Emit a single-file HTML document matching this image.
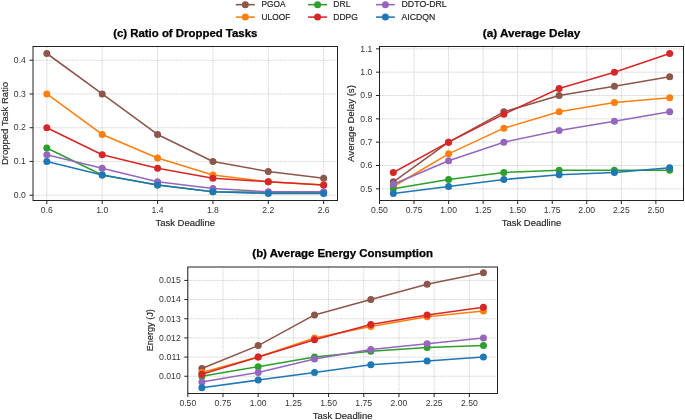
<!DOCTYPE html>
<html><head><meta charset="utf-8"><style>
html,body{margin:0;padding:0;background:#fff;}
body{width:685px;height:420px;overflow:hidden;}
svg{display:block;will-change:transform;font-family:"Liberation Sans",sans-serif;}
</style></head><body>
<svg width="685" height="420" viewBox="0 0 685 420">
<rect width="685" height="420" fill="#fff"/>
<path d="M46.84 46.50V200.50M102.20 46.50V200.50M157.57 46.50V200.50M212.93 46.50V200.50M268.30 46.50V200.50M323.66 46.50V200.50M33.00 195.19H337.50M33.00 161.45H337.50M33.00 127.72H337.50M33.00 93.98H337.50M33.00 60.25H337.50" stroke="#b0b0b0" stroke-opacity="0.8" stroke-width="0.6" stroke-dasharray="1.9 0.7" fill="none"/>
<polyline points="46.84,53.50 102.20,93.98 157.57,134.46 212.93,161.45 268.30,171.57 323.66,178.32" stroke="#8c564b" stroke-width="1.55" fill="none" stroke-linejoin="round" stroke-linecap="butt"/>
<circle cx="46.84" cy="53.50" r="3.5" fill="#8c564b"/><circle cx="102.20" cy="93.98" r="3.5" fill="#8c564b"/><circle cx="157.57" cy="134.46" r="3.5" fill="#8c564b"/><circle cx="212.93" cy="161.45" r="3.5" fill="#8c564b"/><circle cx="268.30" cy="171.57" r="3.5" fill="#8c564b"/><circle cx="323.66" cy="178.32" r="3.5" fill="#8c564b"/>
<polyline points="46.84,93.98 102.20,134.46 157.57,158.08 212.93,174.95 268.30,181.69 323.66,185.07" stroke="#ff7f0e" stroke-width="1.55" fill="none" stroke-linejoin="round" stroke-linecap="butt"/>
<circle cx="46.84" cy="93.98" r="3.5" fill="#ff7f0e"/><circle cx="102.20" cy="134.46" r="3.5" fill="#ff7f0e"/><circle cx="157.57" cy="158.08" r="3.5" fill="#ff7f0e"/><circle cx="212.93" cy="174.95" r="3.5" fill="#ff7f0e"/><circle cx="268.30" cy="181.69" r="3.5" fill="#ff7f0e"/><circle cx="323.66" cy="185.07" r="3.5" fill="#ff7f0e"/>
<polyline points="46.84,147.96 102.20,174.95 157.57,185.07 212.93,191.81 268.30,192.15 323.66,192.49" stroke="#2ca02c" stroke-width="1.55" fill="none" stroke-linejoin="round" stroke-linecap="butt"/>
<circle cx="46.84" cy="147.96" r="3.5" fill="#2ca02c"/><circle cx="102.20" cy="174.95" r="3.5" fill="#2ca02c"/><circle cx="157.57" cy="185.07" r="3.5" fill="#2ca02c"/><circle cx="212.93" cy="191.81" r="3.5" fill="#2ca02c"/><circle cx="268.30" cy="192.15" r="3.5" fill="#2ca02c"/><circle cx="323.66" cy="192.49" r="3.5" fill="#2ca02c"/>
<polyline points="46.84,127.72 102.20,154.70 157.57,168.20 212.93,178.32 268.30,181.69 323.66,185.07" stroke="#d62728" stroke-width="1.55" fill="none" stroke-linejoin="round" stroke-linecap="butt"/>
<circle cx="46.84" cy="127.72" r="3.5" fill="#d62728"/><circle cx="102.20" cy="154.70" r="3.5" fill="#d62728"/><circle cx="157.57" cy="168.20" r="3.5" fill="#d62728"/><circle cx="212.93" cy="178.32" r="3.5" fill="#d62728"/><circle cx="268.30" cy="181.69" r="3.5" fill="#d62728"/><circle cx="323.66" cy="185.07" r="3.5" fill="#d62728"/>
<polyline points="46.84,154.70 102.20,168.20 157.57,181.69 212.93,188.44 268.30,191.81 323.66,191.81" stroke="#9467bd" stroke-width="1.55" fill="none" stroke-linejoin="round" stroke-linecap="butt"/>
<circle cx="46.84" cy="154.70" r="3.5" fill="#9467bd"/><circle cx="102.20" cy="168.20" r="3.5" fill="#9467bd"/><circle cx="157.57" cy="181.69" r="3.5" fill="#9467bd"/><circle cx="212.93" cy="188.44" r="3.5" fill="#9467bd"/><circle cx="268.30" cy="191.81" r="3.5" fill="#9467bd"/><circle cx="323.66" cy="191.81" r="3.5" fill="#9467bd"/>
<polyline points="46.84,161.45 102.20,174.95 157.57,185.07 212.93,191.81 268.30,193.50 323.66,193.50" stroke="#1f77b4" stroke-width="1.55" fill="none" stroke-linejoin="round" stroke-linecap="butt"/>
<circle cx="46.84" cy="161.45" r="3.5" fill="#1f77b4"/><circle cx="102.20" cy="174.95" r="3.5" fill="#1f77b4"/><circle cx="157.57" cy="185.07" r="3.5" fill="#1f77b4"/><circle cx="212.93" cy="191.81" r="3.5" fill="#1f77b4"/><circle cx="268.30" cy="193.50" r="3.5" fill="#1f77b4"/><circle cx="323.66" cy="193.50" r="3.5" fill="#1f77b4"/>
<rect x="33.00" y="46.50" width="304.50" height="154.00" fill="none" stroke="#222" stroke-width="1.0"/>
<path d="M46.84 200.50v3.5M102.20 200.50v3.5M157.57 200.50v3.5M212.93 200.50v3.5M268.30 200.50v3.5M323.66 200.50v3.5M33.00 195.19h-3.5M33.00 161.45h-3.5M33.00 127.72h-3.5M33.00 93.98h-3.5M33.00 60.25h-3.5" stroke="#222" stroke-width="1.0" fill="none"/>
<text x="46.84" y="212.60" font-size="8.50" text-anchor="middle" textLength="12.01" lengthAdjust="spacingAndGlyphs" fill="#363636" stroke="#363636" stroke-width="0.0">0.6</text>
<text x="102.20" y="212.60" font-size="8.50" text-anchor="middle" textLength="12.01" lengthAdjust="spacingAndGlyphs" fill="#363636" stroke="#363636" stroke-width="0.0">1.0</text>
<text x="157.57" y="212.60" font-size="8.50" text-anchor="middle" textLength="12.01" lengthAdjust="spacingAndGlyphs" fill="#363636" stroke="#363636" stroke-width="0.0">1.4</text>
<text x="212.93" y="212.60" font-size="8.50" text-anchor="middle" textLength="12.01" lengthAdjust="spacingAndGlyphs" fill="#363636" stroke="#363636" stroke-width="0.0">1.8</text>
<text x="268.30" y="212.60" font-size="8.50" text-anchor="middle" textLength="12.01" lengthAdjust="spacingAndGlyphs" fill="#363636" stroke="#363636" stroke-width="0.0">2.2</text>
<text x="323.66" y="212.60" font-size="8.50" text-anchor="middle" textLength="12.01" lengthAdjust="spacingAndGlyphs" fill="#363636" stroke="#363636" stroke-width="0.0">2.6</text>
<text x="25.90" y="197.94" font-size="8.50" text-anchor="end" textLength="12.01" lengthAdjust="spacingAndGlyphs" fill="#363636" stroke="#363636" stroke-width="0.0">0.0</text>
<text x="25.90" y="164.20" font-size="8.50" text-anchor="end" textLength="12.01" lengthAdjust="spacingAndGlyphs" fill="#363636" stroke="#363636" stroke-width="0.0">0.1</text>
<text x="25.90" y="130.47" font-size="8.50" text-anchor="end" textLength="12.01" lengthAdjust="spacingAndGlyphs" fill="#363636" stroke="#363636" stroke-width="0.0">0.2</text>
<text x="25.90" y="96.73" font-size="8.50" text-anchor="end" textLength="12.01" lengthAdjust="spacingAndGlyphs" fill="#363636" stroke="#363636" stroke-width="0.0">0.3</text>
<text x="25.90" y="63.00" font-size="8.50" text-anchor="end" textLength="12.01" lengthAdjust="spacingAndGlyphs" fill="#363636" stroke="#363636" stroke-width="0.0">0.4</text>
<text x="185.25" y="36.50" font-size="10.26" font-weight="bold" text-anchor="middle" textLength="144.17" lengthAdjust="spacingAndGlyphs" fill="#000" stroke="#000" stroke-width="0.25">(c) Ratio of Dropped Tasks</text>
<text x="185.25" y="226.00" font-size="9.14" text-anchor="middle" textLength="59.60" lengthAdjust="spacingAndGlyphs" fill="#262626" stroke="#262626" stroke-width="0.15">Task Deadline</text>
<text x="7.80" y="123.50" font-size="9.14" text-anchor="middle" textLength="83.20" lengthAdjust="spacingAndGlyphs" fill="#262626" stroke="#262626" stroke-width="0.15" transform="rotate(-90 7.80 123.50)">Dropped Task Ratio</text>
<path d="M379.50 46.50V200.50M414.05 46.50V200.50M448.59 46.50V200.50M483.14 46.50V200.50M517.68 46.50V200.50M552.23 46.50V200.50M586.77 46.50V200.50M621.32 46.50V200.50M655.86 46.50V200.50M379.50 188.83H683.50M379.50 165.50H683.50M379.50 142.17H683.50M379.50 118.83H683.50M379.50 95.50H683.50M379.50 72.17H683.50M379.50 48.83H683.50" stroke="#b0b0b0" stroke-opacity="0.8" stroke-width="0.6" stroke-dasharray="1.9 0.7" fill="none"/>
<polyline points="393.32,181.83 448.59,142.17 503.86,111.83 559.14,95.50 614.41,86.17 669.68,76.83" stroke="#8c564b" stroke-width="1.55" fill="none" stroke-linejoin="round" stroke-linecap="butt"/>
<circle cx="393.32" cy="181.83" r="3.5" fill="#8c564b"/><circle cx="448.59" cy="142.17" r="3.5" fill="#8c564b"/><circle cx="503.86" cy="111.83" r="3.5" fill="#8c564b"/><circle cx="559.14" cy="95.50" r="3.5" fill="#8c564b"/><circle cx="614.41" cy="86.17" r="3.5" fill="#8c564b"/><circle cx="669.68" cy="76.83" r="3.5" fill="#8c564b"/>
<polyline points="393.32,186.50 448.59,153.83 503.86,128.17 559.14,111.83 614.41,102.50 669.68,97.83" stroke="#ff7f0e" stroke-width="1.55" fill="none" stroke-linejoin="round" stroke-linecap="butt"/>
<circle cx="393.32" cy="186.50" r="3.5" fill="#ff7f0e"/><circle cx="448.59" cy="153.83" r="3.5" fill="#ff7f0e"/><circle cx="503.86" cy="128.17" r="3.5" fill="#ff7f0e"/><circle cx="559.14" cy="111.83" r="3.5" fill="#ff7f0e"/><circle cx="614.41" cy="102.50" r="3.5" fill="#ff7f0e"/><circle cx="669.68" cy="97.83" r="3.5" fill="#ff7f0e"/>
<polyline points="393.32,188.83 448.59,179.50 503.86,172.50 559.14,170.17 614.41,170.17 669.68,170.17" stroke="#2ca02c" stroke-width="1.55" fill="none" stroke-linejoin="round" stroke-linecap="butt"/>
<circle cx="393.32" cy="188.83" r="3.5" fill="#2ca02c"/><circle cx="448.59" cy="179.50" r="3.5" fill="#2ca02c"/><circle cx="503.86" cy="172.50" r="3.5" fill="#2ca02c"/><circle cx="559.14" cy="170.17" r="3.5" fill="#2ca02c"/><circle cx="614.41" cy="170.17" r="3.5" fill="#2ca02c"/><circle cx="669.68" cy="170.17" r="3.5" fill="#2ca02c"/>
<polyline points="393.32,172.50 448.59,142.17 503.86,114.17 559.14,88.50 614.41,72.17 669.68,53.50" stroke="#d62728" stroke-width="1.55" fill="none" stroke-linejoin="round" stroke-linecap="butt"/>
<circle cx="393.32" cy="172.50" r="3.5" fill="#d62728"/><circle cx="448.59" cy="142.17" r="3.5" fill="#d62728"/><circle cx="503.86" cy="114.17" r="3.5" fill="#d62728"/><circle cx="559.14" cy="88.50" r="3.5" fill="#d62728"/><circle cx="614.41" cy="72.17" r="3.5" fill="#d62728"/><circle cx="669.68" cy="53.50" r="3.5" fill="#d62728"/>
<polyline points="393.32,184.17 448.59,160.83 503.86,142.17 559.14,130.50 614.41,121.17 669.68,111.83" stroke="#9467bd" stroke-width="1.55" fill="none" stroke-linejoin="round" stroke-linecap="butt"/>
<circle cx="393.32" cy="184.17" r="3.5" fill="#9467bd"/><circle cx="448.59" cy="160.83" r="3.5" fill="#9467bd"/><circle cx="503.86" cy="142.17" r="3.5" fill="#9467bd"/><circle cx="559.14" cy="130.50" r="3.5" fill="#9467bd"/><circle cx="614.41" cy="121.17" r="3.5" fill="#9467bd"/><circle cx="669.68" cy="111.83" r="3.5" fill="#9467bd"/>
<polyline points="393.32,193.50 448.59,186.50 503.86,179.50 559.14,174.83 614.41,172.50 669.68,167.83" stroke="#1f77b4" stroke-width="1.55" fill="none" stroke-linejoin="round" stroke-linecap="butt"/>
<circle cx="393.32" cy="193.50" r="3.5" fill="#1f77b4"/><circle cx="448.59" cy="186.50" r="3.5" fill="#1f77b4"/><circle cx="503.86" cy="179.50" r="3.5" fill="#1f77b4"/><circle cx="559.14" cy="174.83" r="3.5" fill="#1f77b4"/><circle cx="614.41" cy="172.50" r="3.5" fill="#1f77b4"/><circle cx="669.68" cy="167.83" r="3.5" fill="#1f77b4"/>
<rect x="379.50" y="46.50" width="304.00" height="154.00" fill="none" stroke="#222" stroke-width="1.0"/>
<path d="M379.50 200.50v3.5M414.05 200.50v3.5M448.59 200.50v3.5M483.14 200.50v3.5M517.68 200.50v3.5M552.23 200.50v3.5M586.77 200.50v3.5M621.32 200.50v3.5M655.86 200.50v3.5M379.50 188.83h-3.5M379.50 165.50h-3.5M379.50 142.17h-3.5M379.50 118.83h-3.5M379.50 95.50h-3.5M379.50 72.17h-3.5M379.50 48.83h-3.5" stroke="#222" stroke-width="1.0" fill="none"/>
<text x="379.50" y="212.60" font-size="8.50" text-anchor="middle" textLength="16.81" lengthAdjust="spacingAndGlyphs" fill="#363636" stroke="#363636" stroke-width="0.0">0.50</text>
<text x="414.05" y="212.60" font-size="8.50" text-anchor="middle" textLength="16.81" lengthAdjust="spacingAndGlyphs" fill="#363636" stroke="#363636" stroke-width="0.0">0.75</text>
<text x="448.59" y="212.60" font-size="8.50" text-anchor="middle" textLength="16.81" lengthAdjust="spacingAndGlyphs" fill="#363636" stroke="#363636" stroke-width="0.0">1.00</text>
<text x="483.14" y="212.60" font-size="8.50" text-anchor="middle" textLength="16.81" lengthAdjust="spacingAndGlyphs" fill="#363636" stroke="#363636" stroke-width="0.0">1.25</text>
<text x="517.68" y="212.60" font-size="8.50" text-anchor="middle" textLength="16.81" lengthAdjust="spacingAndGlyphs" fill="#363636" stroke="#363636" stroke-width="0.0">1.50</text>
<text x="552.23" y="212.60" font-size="8.50" text-anchor="middle" textLength="16.81" lengthAdjust="spacingAndGlyphs" fill="#363636" stroke="#363636" stroke-width="0.0">1.75</text>
<text x="586.77" y="212.60" font-size="8.50" text-anchor="middle" textLength="16.81" lengthAdjust="spacingAndGlyphs" fill="#363636" stroke="#363636" stroke-width="0.0">2.00</text>
<text x="621.32" y="212.60" font-size="8.50" text-anchor="middle" textLength="16.81" lengthAdjust="spacingAndGlyphs" fill="#363636" stroke="#363636" stroke-width="0.0">2.25</text>
<text x="655.86" y="212.60" font-size="8.50" text-anchor="middle" textLength="16.81" lengthAdjust="spacingAndGlyphs" fill="#363636" stroke="#363636" stroke-width="0.0">2.50</text>
<text x="372.40" y="191.59" font-size="8.50" text-anchor="end" textLength="12.01" lengthAdjust="spacingAndGlyphs" fill="#363636" stroke="#363636" stroke-width="0.0">0.5</text>
<text x="372.40" y="168.25" font-size="8.50" text-anchor="end" textLength="12.01" lengthAdjust="spacingAndGlyphs" fill="#363636" stroke="#363636" stroke-width="0.0">0.6</text>
<text x="372.40" y="144.92" font-size="8.50" text-anchor="end" textLength="12.01" lengthAdjust="spacingAndGlyphs" fill="#363636" stroke="#363636" stroke-width="0.0">0.7</text>
<text x="372.40" y="121.59" font-size="8.50" text-anchor="end" textLength="12.01" lengthAdjust="spacingAndGlyphs" fill="#363636" stroke="#363636" stroke-width="0.0">0.8</text>
<text x="372.40" y="98.25" font-size="8.50" text-anchor="end" textLength="12.01" lengthAdjust="spacingAndGlyphs" fill="#363636" stroke="#363636" stroke-width="0.0">0.9</text>
<text x="372.40" y="74.92" font-size="8.50" text-anchor="end" textLength="12.01" lengthAdjust="spacingAndGlyphs" fill="#363636" stroke="#363636" stroke-width="0.0">1.0</text>
<text x="372.40" y="51.59" font-size="8.50" text-anchor="end" textLength="12.01" lengthAdjust="spacingAndGlyphs" fill="#363636" stroke="#363636" stroke-width="0.0">1.1</text>
<text x="531.50" y="36.50" font-size="10.26" font-weight="bold" text-anchor="middle" textLength="97.41" lengthAdjust="spacingAndGlyphs" fill="#000" stroke="#000" stroke-width="0.25">(a) Average Delay</text>
<text x="531.50" y="225.60" font-size="9.14" text-anchor="middle" textLength="59.60" lengthAdjust="spacingAndGlyphs" fill="#262626" stroke="#262626" stroke-width="0.15">Task Deadline</text>
<text x="354.40" y="123.50" font-size="9.14" text-anchor="middle" textLength="76.81" lengthAdjust="spacingAndGlyphs" fill="#262626" stroke="#262626" stroke-width="0.15" transform="rotate(-90 354.40 123.50)">Average Delay (s)</text>
<path d="M187.80 267.00V393.50M222.99 267.00V393.50M258.19 267.00V393.50M293.38 267.00V393.50M328.57 267.00V393.50M363.77 267.00V393.50M398.96 267.00V393.50M434.15 267.00V393.50M469.35 267.00V393.50M187.80 376.25H497.50M187.80 357.08H497.50M187.80 337.92H497.50M187.80 318.75H497.50M187.80 299.58H497.50M187.80 280.42H497.50" stroke="#b0b0b0" stroke-opacity="0.8" stroke-width="0.6" stroke-dasharray="1.9 0.7" fill="none"/>
<polyline points="201.88,368.58 258.19,345.58 314.50,314.92 370.80,299.58 427.11,284.25 483.42,272.75" stroke="#8c564b" stroke-width="1.55" fill="none" stroke-linejoin="round" stroke-linecap="butt"/>
<circle cx="201.88" cy="368.58" r="3.5" fill="#8c564b"/><circle cx="258.19" cy="345.58" r="3.5" fill="#8c564b"/><circle cx="314.50" cy="314.92" r="3.5" fill="#8c564b"/><circle cx="370.80" cy="299.58" r="3.5" fill="#8c564b"/><circle cx="427.11" cy="284.25" r="3.5" fill="#8c564b"/><circle cx="483.42" cy="272.75" r="3.5" fill="#8c564b"/>
<polyline points="201.88,372.42 258.19,357.08 314.50,337.92 370.80,326.42 427.11,316.83 483.42,311.08" stroke="#ff7f0e" stroke-width="1.55" fill="none" stroke-linejoin="round" stroke-linecap="butt"/>
<circle cx="201.88" cy="372.42" r="3.5" fill="#ff7f0e"/><circle cx="258.19" cy="357.08" r="3.5" fill="#ff7f0e"/><circle cx="314.50" cy="337.92" r="3.5" fill="#ff7f0e"/><circle cx="370.80" cy="326.42" r="3.5" fill="#ff7f0e"/><circle cx="427.11" cy="316.83" r="3.5" fill="#ff7f0e"/><circle cx="483.42" cy="311.08" r="3.5" fill="#ff7f0e"/>
<polyline points="201.88,376.25 258.19,366.67 314.50,357.08 370.80,351.33 427.11,347.50 483.42,345.58" stroke="#2ca02c" stroke-width="1.55" fill="none" stroke-linejoin="round" stroke-linecap="butt"/>
<circle cx="201.88" cy="376.25" r="3.5" fill="#2ca02c"/><circle cx="258.19" cy="366.67" r="3.5" fill="#2ca02c"/><circle cx="314.50" cy="357.08" r="3.5" fill="#2ca02c"/><circle cx="370.80" cy="351.33" r="3.5" fill="#2ca02c"/><circle cx="427.11" cy="347.50" r="3.5" fill="#2ca02c"/><circle cx="483.42" cy="345.58" r="3.5" fill="#2ca02c"/>
<polyline points="201.88,374.33 258.19,357.08 314.50,339.83 370.80,324.50 427.11,314.92 483.42,307.25" stroke="#d62728" stroke-width="1.55" fill="none" stroke-linejoin="round" stroke-linecap="butt"/>
<circle cx="201.88" cy="374.33" r="3.5" fill="#d62728"/><circle cx="258.19" cy="357.08" r="3.5" fill="#d62728"/><circle cx="314.50" cy="339.83" r="3.5" fill="#d62728"/><circle cx="370.80" cy="324.50" r="3.5" fill="#d62728"/><circle cx="427.11" cy="314.92" r="3.5" fill="#d62728"/><circle cx="483.42" cy="307.25" r="3.5" fill="#d62728"/>
<polyline points="201.88,382.00 258.19,372.42 314.50,359.00 370.80,349.42 427.11,343.67 483.42,337.92" stroke="#9467bd" stroke-width="1.55" fill="none" stroke-linejoin="round" stroke-linecap="butt"/>
<circle cx="201.88" cy="382.00" r="3.5" fill="#9467bd"/><circle cx="258.19" cy="372.42" r="3.5" fill="#9467bd"/><circle cx="314.50" cy="359.00" r="3.5" fill="#9467bd"/><circle cx="370.80" cy="349.42" r="3.5" fill="#9467bd"/><circle cx="427.11" cy="343.67" r="3.5" fill="#9467bd"/><circle cx="483.42" cy="337.92" r="3.5" fill="#9467bd"/>
<polyline points="201.88,387.75 258.19,380.08 314.50,372.42 370.80,364.75 427.11,360.92 483.42,357.08" stroke="#1f77b4" stroke-width="1.55" fill="none" stroke-linejoin="round" stroke-linecap="butt"/>
<circle cx="201.88" cy="387.75" r="3.5" fill="#1f77b4"/><circle cx="258.19" cy="380.08" r="3.5" fill="#1f77b4"/><circle cx="314.50" cy="372.42" r="3.5" fill="#1f77b4"/><circle cx="370.80" cy="364.75" r="3.5" fill="#1f77b4"/><circle cx="427.11" cy="360.92" r="3.5" fill="#1f77b4"/><circle cx="483.42" cy="357.08" r="3.5" fill="#1f77b4"/>
<rect x="187.80" y="267.00" width="309.70" height="126.50" fill="none" stroke="#222" stroke-width="1.0"/>
<path d="M187.80 393.50v3.5M222.99 393.50v3.5M258.19 393.50v3.5M293.38 393.50v3.5M328.57 393.50v3.5M363.77 393.50v3.5M398.96 393.50v3.5M434.15 393.50v3.5M469.35 393.50v3.5M187.80 376.25h-3.5M187.80 357.08h-3.5M187.80 337.92h-3.5M187.80 318.75h-3.5M187.80 299.58h-3.5M187.80 280.42h-3.5" stroke="#222" stroke-width="1.0" fill="none"/>
<text x="187.80" y="405.70" font-size="8.50" text-anchor="middle" textLength="16.81" lengthAdjust="spacingAndGlyphs" fill="#363636" stroke="#363636" stroke-width="0.0">0.50</text>
<text x="222.99" y="405.70" font-size="8.50" text-anchor="middle" textLength="16.81" lengthAdjust="spacingAndGlyphs" fill="#363636" stroke="#363636" stroke-width="0.0">0.75</text>
<text x="258.19" y="405.70" font-size="8.50" text-anchor="middle" textLength="16.81" lengthAdjust="spacingAndGlyphs" fill="#363636" stroke="#363636" stroke-width="0.0">1.00</text>
<text x="293.38" y="405.70" font-size="8.50" text-anchor="middle" textLength="16.81" lengthAdjust="spacingAndGlyphs" fill="#363636" stroke="#363636" stroke-width="0.0">1.25</text>
<text x="328.57" y="405.70" font-size="8.50" text-anchor="middle" textLength="16.81" lengthAdjust="spacingAndGlyphs" fill="#363636" stroke="#363636" stroke-width="0.0">1.50</text>
<text x="363.77" y="405.70" font-size="8.50" text-anchor="middle" textLength="16.81" lengthAdjust="spacingAndGlyphs" fill="#363636" stroke="#363636" stroke-width="0.0">1.75</text>
<text x="398.96" y="405.70" font-size="8.50" text-anchor="middle" textLength="16.81" lengthAdjust="spacingAndGlyphs" fill="#363636" stroke="#363636" stroke-width="0.0">2.00</text>
<text x="434.15" y="405.70" font-size="8.50" text-anchor="middle" textLength="16.81" lengthAdjust="spacingAndGlyphs" fill="#363636" stroke="#363636" stroke-width="0.0">2.25</text>
<text x="469.35" y="405.70" font-size="8.50" text-anchor="middle" textLength="16.81" lengthAdjust="spacingAndGlyphs" fill="#363636" stroke="#363636" stroke-width="0.0">2.50</text>
<text x="180.70" y="379.00" font-size="8.50" text-anchor="end" textLength="21.61" lengthAdjust="spacingAndGlyphs" fill="#363636" stroke="#363636" stroke-width="0.0">0.010</text>
<text x="180.70" y="359.84" font-size="8.50" text-anchor="end" textLength="21.61" lengthAdjust="spacingAndGlyphs" fill="#363636" stroke="#363636" stroke-width="0.0">0.011</text>
<text x="180.70" y="340.67" font-size="8.50" text-anchor="end" textLength="21.61" lengthAdjust="spacingAndGlyphs" fill="#363636" stroke="#363636" stroke-width="0.0">0.012</text>
<text x="180.70" y="321.50" font-size="8.50" text-anchor="end" textLength="21.61" lengthAdjust="spacingAndGlyphs" fill="#363636" stroke="#363636" stroke-width="0.0">0.013</text>
<text x="180.70" y="302.34" font-size="8.50" text-anchor="end" textLength="21.61" lengthAdjust="spacingAndGlyphs" fill="#363636" stroke="#363636" stroke-width="0.0">0.014</text>
<text x="180.70" y="283.17" font-size="8.50" text-anchor="end" textLength="21.61" lengthAdjust="spacingAndGlyphs" fill="#363636" stroke="#363636" stroke-width="0.0">0.015</text>
<text x="342.65" y="256.70" font-size="10.26" font-weight="bold" text-anchor="middle" textLength="180.59" lengthAdjust="spacingAndGlyphs" fill="#000" stroke="#000" stroke-width="0.25">(b) Average Energy Consumption</text>
<text x="342.65" y="418.50" font-size="9.14" text-anchor="middle" textLength="59.60" lengthAdjust="spacingAndGlyphs" fill="#262626" stroke="#262626" stroke-width="0.15">Task Deadline</text>
<text x="152.90" y="330.25" font-size="9.14" text-anchor="middle" textLength="42.19" lengthAdjust="spacingAndGlyphs" fill="#262626" stroke="#262626" stroke-width="0.15" transform="rotate(-90 152.90 330.25)">Energy (J)</text>
<path d="M235.80 4.65H254.80" stroke="#8c564b" stroke-width="1.55"/><circle cx="245.30" cy="4.65" r="3.5" fill="#8c564b"/>
<text x="261.50" y="7.40" font-size="8.96" text-anchor="start" textLength="23.93" lengthAdjust="spacingAndGlyphs" fill="#262626" stroke="#262626" stroke-width="0.2">PGOA</text>
<path d="M235.80 17.10H254.80" stroke="#ff7f0e" stroke-width="1.55"/><circle cx="245.30" cy="17.10" r="3.5" fill="#ff7f0e"/>
<text x="261.50" y="19.80" font-size="8.96" text-anchor="start" textLength="28.75" lengthAdjust="spacingAndGlyphs" fill="#262626" stroke="#262626" stroke-width="0.2">ULOOF</text>
<path d="M308.10 4.65H327.10" stroke="#2ca02c" stroke-width="1.55"/><circle cx="317.60" cy="4.65" r="3.5" fill="#2ca02c"/>
<text x="333.30" y="7.40" font-size="8.96" text-anchor="start" textLength="17.09" lengthAdjust="spacingAndGlyphs" fill="#262626" stroke="#262626" stroke-width="0.2">DRL</text>
<path d="M308.10 17.10H327.10" stroke="#d62728" stroke-width="1.55"/><circle cx="317.60" cy="17.10" r="3.5" fill="#d62728"/>
<text x="333.30" y="19.80" font-size="8.96" text-anchor="start" textLength="24.66" lengthAdjust="spacingAndGlyphs" fill="#262626" stroke="#262626" stroke-width="0.2">DDPG</text>
<path d="M376.00 4.65H394.80" stroke="#9467bd" stroke-width="1.55"/><circle cx="385.40" cy="4.65" r="3.5" fill="#9467bd"/>
<text x="401.50" y="7.40" font-size="8.96" text-anchor="start" textLength="45.20" lengthAdjust="spacingAndGlyphs" fill="#262626" stroke="#262626" stroke-width="0.2">DDTO-DRL</text>
<path d="M376.00 17.10H394.80" stroke="#1f77b4" stroke-width="1.55"/><circle cx="385.40" cy="17.10" r="3.5" fill="#1f77b4"/>
<text x="401.50" y="19.80" font-size="8.96" text-anchor="start" textLength="33.65" lengthAdjust="spacingAndGlyphs" fill="#262626" stroke="#262626" stroke-width="0.2">AICDQN</text>
</svg></body></html>
